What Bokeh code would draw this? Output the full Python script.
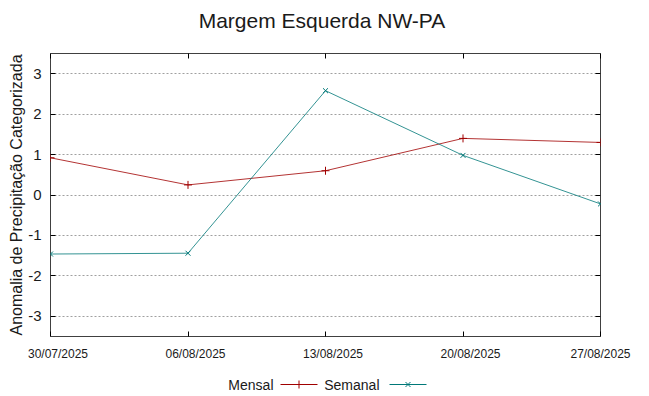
from datetime import datetime
from bokeh.plotting import figure
from bokeh.models import Range1d, LinearAxis, FixedTicker, Title
from bokeh.layouts import column
from bokeh.embed import file_html
from bokeh.resources import INLINE
from bokeh.core.properties import value

# ---- data ----
dates = ["30/07/2025", "06/08/2025", "13/08/2025", "20/08/2025", "27/08/2025"]
mensal = [0.92, 0.25, 0.60, 1.40, 1.30]
semanal = [-1.46, -1.44, 2.58, 0.98, -0.22]
y_ticks = [-3, -2, -1, 0, 1, 2, 3]
series_names = ["Mensal", "Semanal"]
title_text = "Margem Esquerda NW-PA"
y_title = "Anomalia de Precipitação Categorizada"

FONT = "Liberation Sans"
TXT = "#1a1a1a"
BORDER = "#404040"
C_MEN = "#a00000"
C_SEM = "#007878"

d0 = datetime.strptime(dates[0], "%d/%m/%Y")
days = [(datetime.strptime(d, "%d/%m/%Y") - d0).days for d in dates]
x_lo, x_hi = days[0], days[-1]
y_lo, y_hi = -3.5, 3.5

W = 649
B_LEFT, B_RIGHT = 50, 49
TOP_H = 40          # title strip
MAIN_H = 326        # plot figure
LEG_H = 30          # legend strip
MAIN_TOP, MAIN_BOTTOM = 13, 30


def strip_fig(h):
    f = figure(width=W, height=h, x_range=Range1d(B_LEFT, W - B_RIGHT),
               y_range=Range1d(0, h),
               x_axis_location=None, y_axis_location=None,
               toolbar_location=None, output_backend="svg",
               min_border_left=B_LEFT, min_border_right=B_RIGHT,
               min_border_top=0, min_border_bottom=0)
    f.outline_line_color = None
    f.xgrid.visible = False
    f.ygrid.visible = False
    f.background_fill_color = "white"
    f.border_fill_color = "white"
    return f


# ---- title strip ----
top = strip_fig(TOP_H)
top.text(x=[321.5], y=[TOP_H - 20], text=[title_text], text_align="center",
         text_baseline="middle", text_font=value(FONT), text_font_size="21px",
         text_color=TXT)

# ---- main plot ----
p = figure(width=W, height=MAIN_H,
           x_range=Range1d(x_lo, x_hi), y_range=Range1d(y_lo, y_hi),
           x_axis_location=None, y_axis_location=None,
           toolbar_location=None, output_backend="svg",
           min_border_left=B_LEFT, min_border_right=B_RIGHT,
           min_border_top=MAIN_TOP, min_border_bottom=MAIN_BOTTOM)
p.background_fill_color = "white"
p.border_fill_color = "white"
p.outline_line_color = BORDER
p.outline_line_width = 1
p.xgrid.visible = False
p.ygrid.ticker = FixedTicker(ticks=y_ticks)
p.ygrid.grid_line_color = "#a0a0a0"
p.ygrid.grid_line_dash = "2 2"
p.ygrid.grid_line_width = 1


def tick_only_axis(ticks, **kw):
    ax = LinearAxis(ticker=FixedTicker(ticks=ticks, minor_ticks=[]), **kw)
    ax.major_tick_in = 5
    ax.major_tick_out = 0
    ax.major_tick_line_color = "#000000"
    ax.minor_tick_line_color = None
    ax.axis_line_color = None
    ax.major_label_overrides = {t: "" for t in ticks}
    ax.major_label_standoff = 0
    ax.major_label_text_font_size = "2px"
    return ax


yl = LinearAxis(ticker=FixedTicker(ticks=y_ticks, minor_ticks=[]))
yl.major_tick_in = 5
yl.major_tick_out = 0
yl.major_tick_line_color = "#000000"
yl.minor_tick_line_color = None
yl.axis_line_color = None
yl.major_label_overrides = {t: str(t) for t in y_ticks}
yl.major_label_standoff = 9
yl.major_label_text_font = FONT
yl.major_label_text_font_size = "15px"
yl.major_label_text_color = TXT
p.add_layout(yl, "left")
p.add_layout(Title(text=y_title, align="center", offset=-8, standoff=1,
                   text_font=FONT, text_font_size="16px",
                   text_font_style="normal", text_color=TXT), "left")

p.add_layout(tick_only_axis(y_ticks), "right")
p.add_layout(tick_only_axis(days), "above")
p.add_layout(tick_only_axis(days), "below")

# x tick labels drawn by a second axis whose range is shifted, so the labels sit
# slightly right of their ticks as in the gnuplot original
px_per_day = (W - B_LEFT - B_RIGHT) / (x_hi - x_lo)
shift = 7.5 / px_per_day
lab_lo, lab_hi = x_lo - shift, x_hi - shift
p.extra_x_ranges = {"lab": Range1d(lab_lo, lab_hi)}
lab_ticks = [d if d <= lab_hi else lab_hi - 1e-6 for d in days]
xl = LinearAxis(x_range_name="lab", ticker=FixedTicker(ticks=lab_ticks, minor_ticks=[]))
xl.major_label_overrides = {t: s for t, s in zip(lab_ticks, dates)}
xl.major_tick_line_color = None
xl.minor_tick_line_color = None
xl.major_tick_in = 0
xl.major_tick_out = 0
xl.axis_line_color = None
xl.major_label_standoff = 10
xl.major_label_text_font = FONT
xl.major_label_text_font_size = "12px"
xl.major_label_text_color = TXT
p.add_layout(xl, "below")

p.line(days, mensal, line_color=C_MEN, line_width=1, line_alpha=0.8)
p.scatter(days, mensal, marker="cross", size=8, line_color=C_MEN, line_width=1)
p.line(days, semanal, line_color=C_SEM, line_width=1, line_alpha=0.8)
p.scatter(days, semanal, marker="x", size=7, line_color=C_SEM, line_width=1)

# ---- legend strip (gnuplot style: text then sample) ----
lg = strip_fig(LEG_H)
text_right = [273, 379]
sample_len = 37
gaps = [7, 10]
yc = 12
colors = [C_MEN, C_SEM]
markers = ["cross", "x"]
msizes = [8, 7]
for name, tx, g, col, mk, ms in zip(series_names, text_right, gaps, colors, markers, msizes):
    lg.text(x=[tx], y=[yc], text=[name], text_align="right", text_baseline="middle",
            text_font=value(FONT), text_font_size="14px", text_color=TXT)
    x0 = tx + g
    lg.line([x0, x0 + sample_len], [yc, yc], line_color=col, line_width=1)
    lg.scatter([x0 + sample_len / 2], [yc], marker=mk, size=ms, line_color=col, line_width=1)

layout = column(top, p, lg, spacing=0)
open("out.html", "w").write(file_html(layout, INLINE))
